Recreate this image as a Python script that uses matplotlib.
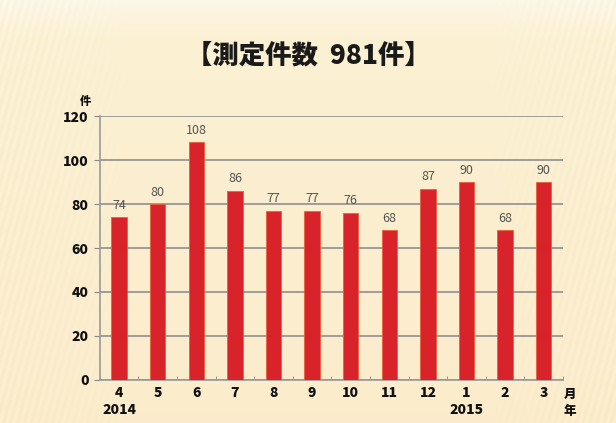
import numpy as np
import matplotlib
matplotlib.use("Agg")
import matplotlib.pyplot as plt

plt.rcParams['font.family'] = ['Noto Sans CJK JP', 'DejaVu Sans']

months = ["4", "5", "6", "7", "8", "9", "10", "11", "12", "1", "2", "3"]
counts = [74, 80, 108, 86, 77, 77, 76, 68, 87, 90, 68, 90]
years = ["2014", "2015"]
title = "【測定件数  981件】"

fig = plt.figure(figsize=(6.16, 4.23), dpi=100)

# cream background with faint gradient and streaks
bg = fig.add_axes([0, 0, 1, 1], zorder=-10)
h, w = 423, 616
yy, xx = np.mgrid[0:h, 0:w]
base = np.ones((h, w, 3))
base[..., 0] = 0.985
base[..., 1] = 0.945 - 0.02 * (yy / h)
base[..., 2] = 0.83 - 0.03 * (yy / h)
top = np.clip(1 - yy / 40.0, 0, 1)
base = base * (1 - 0.5 * top[..., None]) + 0.99 * 0.5 * top[..., None]
stripes = 0.012 * np.sin(xx * 0.9 + yy * 0.25)
edge = np.clip((np.abs(xx - w / 2) - 180) / 130, 0, 1)
base = base - (stripes * edge)[..., None]
bg.imshow(np.clip(base, 0, 1), aspect='auto', extent=[0, 1, 0, 1])
bg.axis('off')

ax = fig.add_axes([0.162, 0.1017, 0.752, 0.624])
ax.set_facecolor('none')
x = np.arange(len(months))
bars = ax.bar(x, counts, width=0.4, color='#D8232A', edgecolor='#E8603A',
              linewidth=0.6, zorder=3)
for xi, v in zip(x, counts):
    ax.text(xi, v + 2.5, str(v), ha='center', va='bottom', fontsize=9,
            color='#555555', zorder=4)

ax.set_xlim(-0.5, len(months) - 0.5)
ax.set_ylim(0, 120)
ax.set_yticks(np.arange(0, 121, 20))
ax.set_yticklabels([str(v) for v in range(0, 121, 20)], fontsize=10,
                   fontweight='heavy', color='#111111')
ax.set_xticks(x)
ax.set_xticklabels(months, fontsize=10, fontweight='heavy', color='#111111')
ax.set_xticks(np.arange(-0.5, len(months), 1), minor=True)
ax.tick_params(axis='x', which='major', length=0, pad=4)
ax.tick_params(axis='x', which='minor', length=3, color='#8a8a8a', direction='in')
ax.tick_params(axis='y', length=4, color='#8a8a8a', pad=4)
ax.grid(axis='y', color='#8f8f8f', linewidth=1.2, zorder=1)
for s in ['top', 'right']:
    ax.spines[s].set_visible(False)
ax.spines['left'].set_color('#9a9a9a')
ax.spines['bottom'].set_color('#9a9a9a')
ax.spines['left'].set_linewidth(1.2)
ax.spines['bottom'].set_linewidth(1.2)

fig.text(0.5, 0.87, title, ha='center', va='center', fontsize=19,
         fontweight='heavy', color='#1a1a1a')
fig.text(0.138, 0.762, "件", ha='center', va='center', fontsize=8,
         fontweight='heavy', color='#111111')
fig.text(0.925, 0.068, "月", ha='center', va='center', fontsize=9,
         fontweight='heavy', color='#111111')
fig.text(0.925, 0.028, "年", ha='center', va='center', fontsize=9,
         fontweight='heavy', color='#111111')
ax.text(0, -0.112, years[0], transform=ax.get_xaxis_transform(), ha='center',
        va='center', fontsize=10, fontweight='heavy', color='#111111')
ax.text(9, -0.112, years[1], transform=ax.get_xaxis_transform(), ha='center',
        va='center', fontsize=10, fontweight='heavy', color='#111111')

fig.savefig("out.png", dpi=100)
